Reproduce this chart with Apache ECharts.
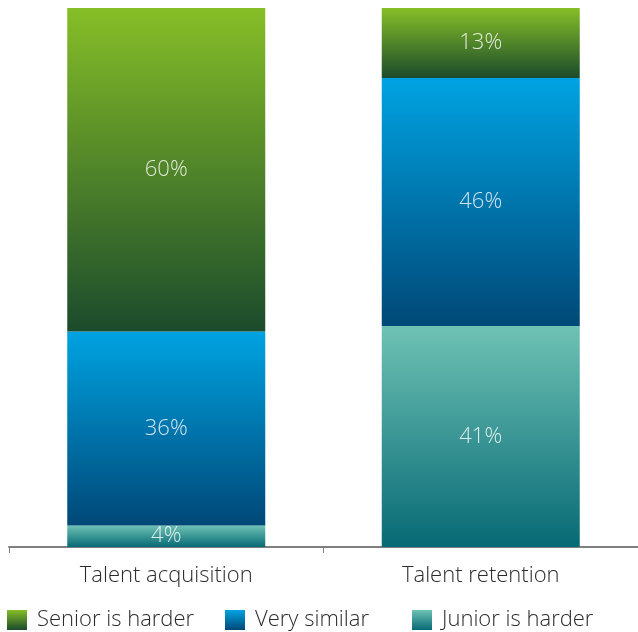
<!DOCTYPE html>
<html>
<head>
<meta charset="utf-8">
<script src="https://cdn.jsdelivr.net/npm/echarts@6/dist/echarts.min.js"></script>
<style>
  html, body { margin: 0; padding: 0; background: #fff; }
  #chart { width: 638px; height: 632px; }
</style>
</head>
<body>
<div id="chart"></div>
<script>
// Survey responses: share of answers per topic (percent)
const categories = ['Talent acquisition', 'Talent retention'];
const seriesNames = ['Senior is harder', 'Very similar', 'Junior is harder'];
const seniorHarder = [60, 13];
const verySimilar = [36, 46];
const juniorHarder = [4, 41];

const FONT = '"Open Sans", "Noto Sans", sans-serif';

function vGrad(top, bottom) {
  return new echarts.graphic.LinearGradient(0, 0, 0, 1, [
    { offset: 0, color: top },
    { offset: 1, color: bottom }
  ]);
}

const fills = {
  'Senior is harder': vGrad('#86be27', '#1b4b2c'),
  'Very similar': vGrad('#00a3e2', '#004877'),
  'Junior is harder': vGrad('#6ec2b4', '#076a75')
};

const valueLabel = {
  show: true,
  position: 'inside',
  formatter: '{c}%',
  color: 'rgba(255,255,255,0.82)',
  fontFamily: FONT,
  fontWeight: 300,
  fontSize: 22
};

function makeSeries(name, values) {
  return {
    name: name,
    type: 'bar',
    stack: 'total',
    barWidth: 198,
    data: values,
    itemStyle: { color: fills[name] },
    label: valueLabel,
    emphasis: { disabled: true }
  };
}

function makeLegend(name, left) {
  return {
    data: [name],
    left: left,
    top: 609,
    padding: [0, 0, 0, 0],
    itemWidth: 20,
    itemHeight: 20,
    itemGap: 0,
    icon: 'rect',
    selectedMode: false,
    textStyle: {
      fontFamily: FONT,
      fontWeight: 300,
      fontSize: 22,
      color: '#2b2b2b',
      padding: [0, 0, 0, 5]
    }
  };
}

const chart = echarts.init(document.getElementById('chart'), null, { renderer: 'canvas' });
chart.setOption({
  animation: false,
  grid: { left: 9, width: 632, top: 8, bottom: 85, containLabel: false },
  xAxis: {
    type: 'category',
    data: categories,
    axisLine: { lineStyle: { color: '#7f7f7f', width: 2 } },
    axisTick: { show: true, length: 6, lineStyle: { color: '#7f7f7f', width: 1 } },
    axisLabel: {
      margin: 18,
      fontFamily: FONT,
      fontWeight: 300,
      fontSize: 22,
      color: '#2b2b2b'
    }
  },
  yAxis: {
    type: 'value',
    min: 0,
    max: 100,
    show: false,
    splitLine: { show: false }
  },
  legend: [
    makeLegend(seriesNames[0], 7),
    makeLegend(seriesNames[1], 225),
    makeLegend(seriesNames[2], 412)
  ],
  series: [
    makeSeries('Junior is harder', juniorHarder),
    makeSeries('Very similar', verySimilar),
    makeSeries('Senior is harder', seniorHarder)
  ]
});
</script>
</body>
</html>
